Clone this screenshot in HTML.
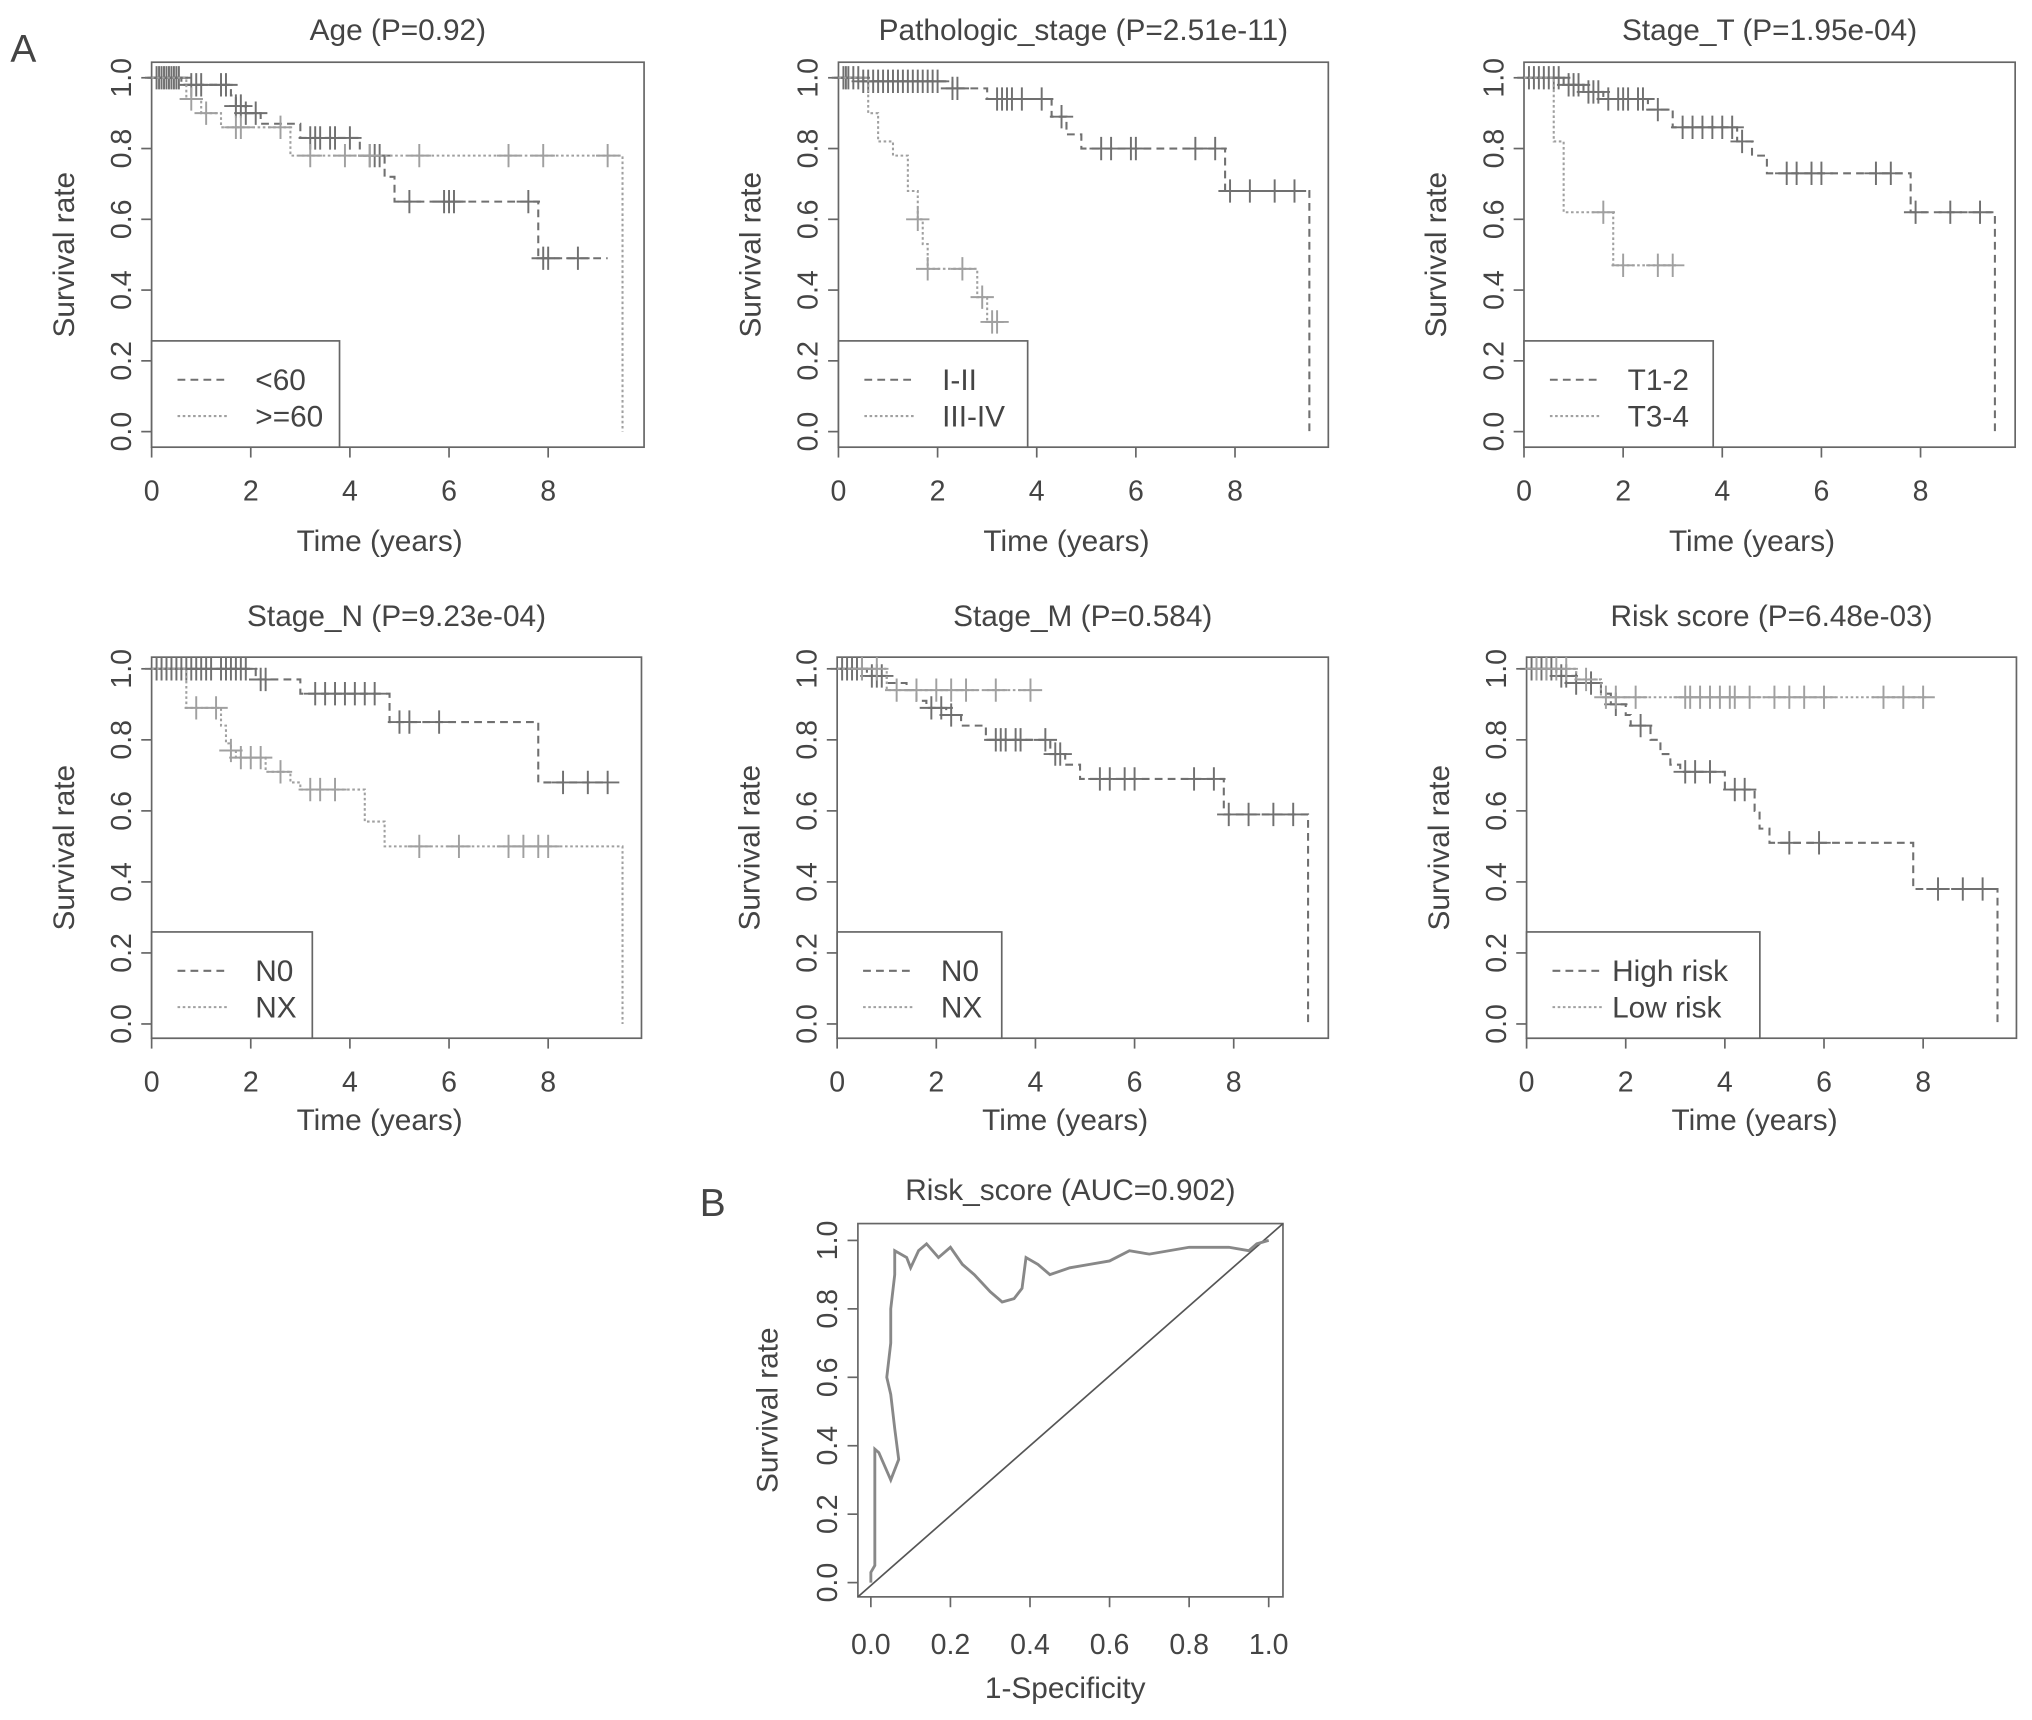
<!DOCTYPE html>
<html><head><meta charset="utf-8"><style>html,body{margin:0;padding:0;background:#fff}svg{display:block}text{font-family:"Liberation Sans",sans-serif;fill:#444}</style></head>
<body>
<svg id="fig" width="2032" height="1720" viewBox="0 0 1568 1327" preserveAspectRatio="none" xmlns="http://www.w3.org/2000/svg">
<text x="8" y="48" font-size="30" fill="#222">A</text>
<text x="540" y="938" font-size="30" fill="#222">B</text>
</svg>
<script>
const xTicks=[0,2,4,6,8];
const yTicks=[0,0.2,0.4,0.6,0.8,1.0];
const titles=["Age (P=0.92)","Pathologic_stage (P=2.51e-11)","Stage_T (P=1.95e-04)","Stage_N (P=9.23e-04)","Stage_M (P=0.584)","Risk score (P=6.48e-03)"];
const legends=[["<60",">=60"],["I-II","III-IV"],["T1-2","T3-4"],["N0","NX"],["N0","NX"],["High risk","Low risk"]];
const aSteps=[
[[0.6,0.98],[1.6,0.95],[1.7,0.92],[1.9,0.9],[2.2,0.87],[3.0,0.83],[4.2,0.78],[4.7,0.72],[4.9,0.65],[7.8,0.49]],
[[0.5,0.99],[2.3,0.97],[3.0,0.94],[4.3,0.89],[4.6,0.84],[4.9,0.80],[7.8,0.68],[9.5,0]],
[[0.8,0.98],[1.2,0.96],[1.6,0.94],[2.5,0.91],[3.0,0.86],[4.3,0.82],[4.6,0.78],[4.9,0.73],[7.8,0.62],[9.5,0]],
[[2.1,0.97],[3.0,0.93],[4.8,0.85],[7.8,0.68]],
[[0.6,0.98],[1.0,0.96],[1.4,0.94],[1.6,0.91],[1.8,0.89],[2.2,0.87],[2.5,0.84],[3.0,0.8],[4.3,0.76],[4.6,0.73],[4.9,0.69],[7.8,0.59],[9.5,0]],
[[0.6,0.98],[1.0,0.96],[1.5,0.93],[1.7,0.9],[2.0,0.87],[2.1,0.84],[2.5,0.80],[2.7,0.76],[2.9,0.73],[3.1,0.71],[4.0,0.66],[4.6,0.6],[4.7,0.55],[4.9,0.51],[7.8,0.38],[9.5,0]]];
const aCens=[
[0.1,0.15,0.2,0.25,0.3,0.35,0.4,0.45,0.5,0.55,0.8,0.9,1.0,1.4,1.5,1.7,1.8,1.9,2.1,3.2,3.3,3.4,3.6,3.7,4.0,4.4,4.5,4.6,5.2,5.9,6.0,6.1,7.6,7.9,8.0,8.6],
[0.1,0.15,0.2,0.3,0.4,0.5,0.6,0.7,0.8,0.9,1.0,1.1,1.2,1.3,1.4,1.5,1.6,1.7,1.8,1.9,2.0,2.3,2.4,3.2,3.3,3.4,3.5,3.7,4.1,4.5,5.3,5.5,5.9,6.0,7.2,7.6,7.9,8.3,8.8,9.2],
[0.1,0.2,0.3,0.4,0.5,0.6,0.7,0.9,1.0,1.1,1.3,1.4,1.5,1.7,1.9,2.0,2.1,2.3,2.4,2.7,3.2,3.4,3.6,3.8,4.0,4.2,4.4,5.3,5.5,5.8,6.0,7.1,7.4,7.9,8.6,9.2],
[0.1,0.2,0.3,0.4,0.5,0.6,0.7,0.8,0.9,1.0,1.1,1.2,1.4,1.5,1.6,1.7,1.8,1.9,2.2,2.3,3.3,3.5,3.7,3.9,4.1,4.3,4.5,5.0,5.2,5.8,8.3,8.8,9.2],
[0.1,0.2,0.3,0.4,0.5,0.7,0.8,0.9,1.9,2.1,2.3,3.2,3.3,3.4,3.6,3.7,4.2,4.4,4.5,5.3,5.5,5.8,6.0,7.2,7.6,7.9,8.3,8.8,9.2],
[0.1,0.2,0.3,0.4,0.5,0.7,0.8,1.0,1.3,1.8,2.3,3.2,3.4,3.7,4.2,4.4,5.3,5.9,8.3,8.8,9.2]];
const aEnd=[9.2,9.5,9.5,9.2,9.5,9.5];
const bSteps=[
[[0.7,0.94],[1.0,0.9],[1.4,0.86],[2.8,0.78],[9.5,0]],
[[0.6,0.9],[0.8,0.82],[1.1,0.78],[1.4,0.68],[1.6,0.6],[1.7,0.53],[1.8,0.46],[2.8,0.38],[3.0,0.31]],
[[0.6,0.82],[0.8,0.62],[1.8,0.47]],
[[0.7,0.89],[1.4,0.84],[1.5,0.79],[1.6,0.77],[1.7,0.75],[2.3,0.71],[2.8,0.68],[3.0,0.66],[4.3,0.57],[4.7,0.5],[9.5,0]],
[[1.0,0.94]],
[[1.0,0.97],[1.5,0.92]]];
const bCens=[
[0.8,1.1,1.7,1.8,2.6,3.2,3.9,4.4,5.4,7.2,7.9,9.2],
[1.6,1.8,2.5,2.9,3.1,3.2],
[1.6,2.0,2.7,3.0],
[0.9,1.3,1.6,1.8,2.0,2.2,2.6,3.2,3.4,3.7,5.4,6.2,7.2,7.5,7.8,8.0],
[0.5,0.8,1.2,1.6,2.0,2.3,2.6,3.2,3.9],
[0.2,0.4,0.6,0.8,1.2,1.6,1.8,2.2,3.2,3.3,3.5,3.7,3.9,4.1,4.2,4.5,5.0,5.3,5.6,6.0,7.2,7.6,8.0]];
const bEnd=[9.5,3.2,3.1,9.5,3.9,8.1];
const rocFpr=[0,0,0.01,0.01,0.02,0.05,0.07,0.06,0.05,0.04,0.05,0.05,0.06,0.06,0.09,0.1,0.12,0.14,0.17,0.2,0.23,0.26,0.3,0.33,0.36,0.38,0.39,0.42,0.45,0.5,0.55,0.6,0.65,0.7,0.8,0.9,0.95,0.97,1];
const rocTpr=[0,0.03,0.05,0.39,0.38,0.3,0.36,0.45,0.55,0.6,0.7,0.8,0.9,0.97,0.95,0.92,0.97,0.99,0.95,0.98,0.93,0.9,0.85,0.82,0.83,0.86,0.95,0.93,0.9,0.92,0.93,0.94,0.97,0.96,0.98,0.98,0.97,0.99,1];
const rocTicks=[0,0.2,0.4,0.6,0.8,1.0];

const NS="http://www.w3.org/2000/svg";
const svg=document.getElementById('fig');
function mk(tag,attrs,parent){const e=document.createElementNS(NS,tag);for(const k in attrs)e.setAttribute(k,attrs[k]);(parent||svg).appendChild(e);return e;}
function txt(s,attrs,parent){const e=mk('text',attrs,parent);e.textContent=s;return e;}

const panels=[
{x0:117,x1:497,y0:48,y1:345,ox:117,yt:60,yb:333,lw:145,lt:80,xl:80,tt:17},
{x0:647,x1:1025,y0:48,y1:345,ox:647,yt:60,yb:333,lw:146,lt:80,xl:80,tt:17},
{x0:1176,x1:1555,y0:48,y1:345,ox:1176,yt:60,yb:333,lw:146,lt:80,xl:80,tt:17},
{x0:117,x1:495,y0:507,y1:801,ox:117,yt:516,yb:790,lw:124,lt:80,xl:71,tt:24},
{x0:646,x1:1025,y0:507,y1:801,ox:646,yt:516,yb:790,lw:127,lt:80,xl:71,tt:24},
{x0:1178,x1:1556,y0:507,y1:801,ox:1178,yt:516,yb:790,lw:180,lt:66,xl:71,tt:24}];
const perYear=38.25;

panels.forEach((p,i)=>{
  const g=mk('g',{});
  
  
  const X=t=>p.ox+t*perYear, Y=v=>p.yb-v*(p.yb-p.yt);
  const box=mk('rect',{x:p.x0,y:p.y0,width:p.x1-p.x0,height:p.y1-p.y0,fill:'none',stroke:'#666','stroke-width':1.3},g);
  
  const t=txt(titles[i],{x:(p.x0+p.x1)/2,y:p.y0-p.tt,'font-size':23,'text-anchor':'middle'},g);
  
  xTicks.forEach(v=>{mk('line',{x1:X(v),x2:X(v),y1:p.y1,y2:p.y1+8,stroke:'#666','stroke-width':1.3},g);
    const l=txt(String(v),{x:X(v),y:p.y1+41,'font-size':22,'text-anchor':'middle'},g);
    });
  yTicks.forEach(v=>{mk('line',{x1:p.x0,x2:p.x0-8,y1:Y(v),y2:Y(v),stroke:'#666','stroke-width':1.3},g);
    const l=txt(v.toFixed(1),{x:0,y:0,'font-size':22,'text-anchor':'middle',transform:`translate(${p.x0-16},${Y(v)}) rotate(-90)`},g);
    });
  const xl=txt('Time (years)',{x:p.ox+4.6*perYear,y:p.y1+p.xl,'font-size':23,'text-anchor':'middle'},g);
  
  const yl=txt('Survival rate',{x:0,y:0,'font-size':23,'text-anchor':'middle',transform:`translate(${p.x0-60},${(p.y0+p.y1)/2}) rotate(-90)`},g);
  
  [[aSteps[i],aCens[i],aEnd[i],'#707070','6,4','dashed'],[bSteps[i],bCens[i],bEnd[i],'#a0a0a0','2,2','dotted']].forEach(([st,cs,end,col,dash,nm])=>{
    let d=`M${X(0)},${Y(1)}`;
    st.forEach(([tt,v])=>{d+=` H${X(tt)} V${Y(v)}`;});
    d+=` H${X(end)}`;
    const pth=mk('path',{d:d,fill:'none',stroke:col,'stroke-width':1.6,'stroke-dasharray':dash},g);
    
    cs.forEach(c=>{let v=1;st.forEach(([tt,vv])=>{if(tt<=c)v=vv;});
      const m=mk('path',{d:`M${X(c)-9},${Y(v)} h18 M${X(c)},${Y(v)-9} v18`,stroke:col,'stroke-width':1.5},g);
      });
  });
  const ly=p.y1-82;
  const lg=mk('g',{},g);
  mk('rect',{x:p.x0,y:ly,width:p.lw,height:82,fill:'#fff',stroke:'#666','stroke-width':1.3},lg);
  [['#707070','6,4'],['#a0a0a0','2,2']].forEach(([c,d],k)=>{
    const yy=ly+30+k*28;
    mk('line',{x1:p.x0+20,x2:p.x0+60,y1:yy,y2:yy,stroke:c,'stroke-width':1.6,'stroke-dasharray':d},lg);
    const e=txt(legends[i][k],{x:p.x0+p.lt,y:yy+8,'font-size':23},lg);
    
  });
});

(function(){
  const g=mk('g',{});
  const x0=662,x1=990,y0=944,y1=1232,xa=672,xb=979,ya=1221,yb=957;
  const X=v=>xa+v*(xb-xa), Y=v=>ya-v*(ya-yb);
  mk('rect',{x:x0,y:y0,width:x1-x0,height:y1-y0,fill:'none',stroke:'#666','stroke-width':1.3},g);
  const t=txt('Risk_score (AUC=0.902)',{x:826,y:926,'font-size':23,'text-anchor':'middle'},g);
  
  rocTicks.forEach(v=>{mk('line',{x1:X(v),x2:X(v),y1:y1,y2:y1+8,stroke:'#666','stroke-width':1.3},g);
    const l=txt(v.toFixed(1),{x:X(v),y:y1+44,'font-size':22,'text-anchor':'middle'},g);
    
    mk('line',{x1:x0,x2:x0-8,y1:Y(v),y2:Y(v),stroke:'#666','stroke-width':1.3},g);
    const m=txt(v.toFixed(1),{x:0,y:0,'font-size':22,'text-anchor':'middle',transform:`translate(${x0-16},${Y(v)}) rotate(-90)`},g);
    });
  const xl=txt('1-Specificity',{x:822,y:1310,'font-size':23,'text-anchor':'middle'},g);
  
  const yl=txt('Survival rate',{x:0,y:0,'font-size':23,'text-anchor':'middle',transform:`translate(600,${(y0+y1)/2}) rotate(-90)`},g);
  
  const diag=mk('line',{x1:x0,y1:y1,x2:x1,y2:y0,stroke:'#555','stroke-width':1.3},g);
  
  const d=rocFpr.map((f,k)=>(k?'L':'M')+X(f)+','+Y(rocTpr[k])).join(' ');
  const c=mk('path',{d:d,fill:'none',stroke:'#888','stroke-width':2.2},g);
  
})();
</script>
</body></html>
